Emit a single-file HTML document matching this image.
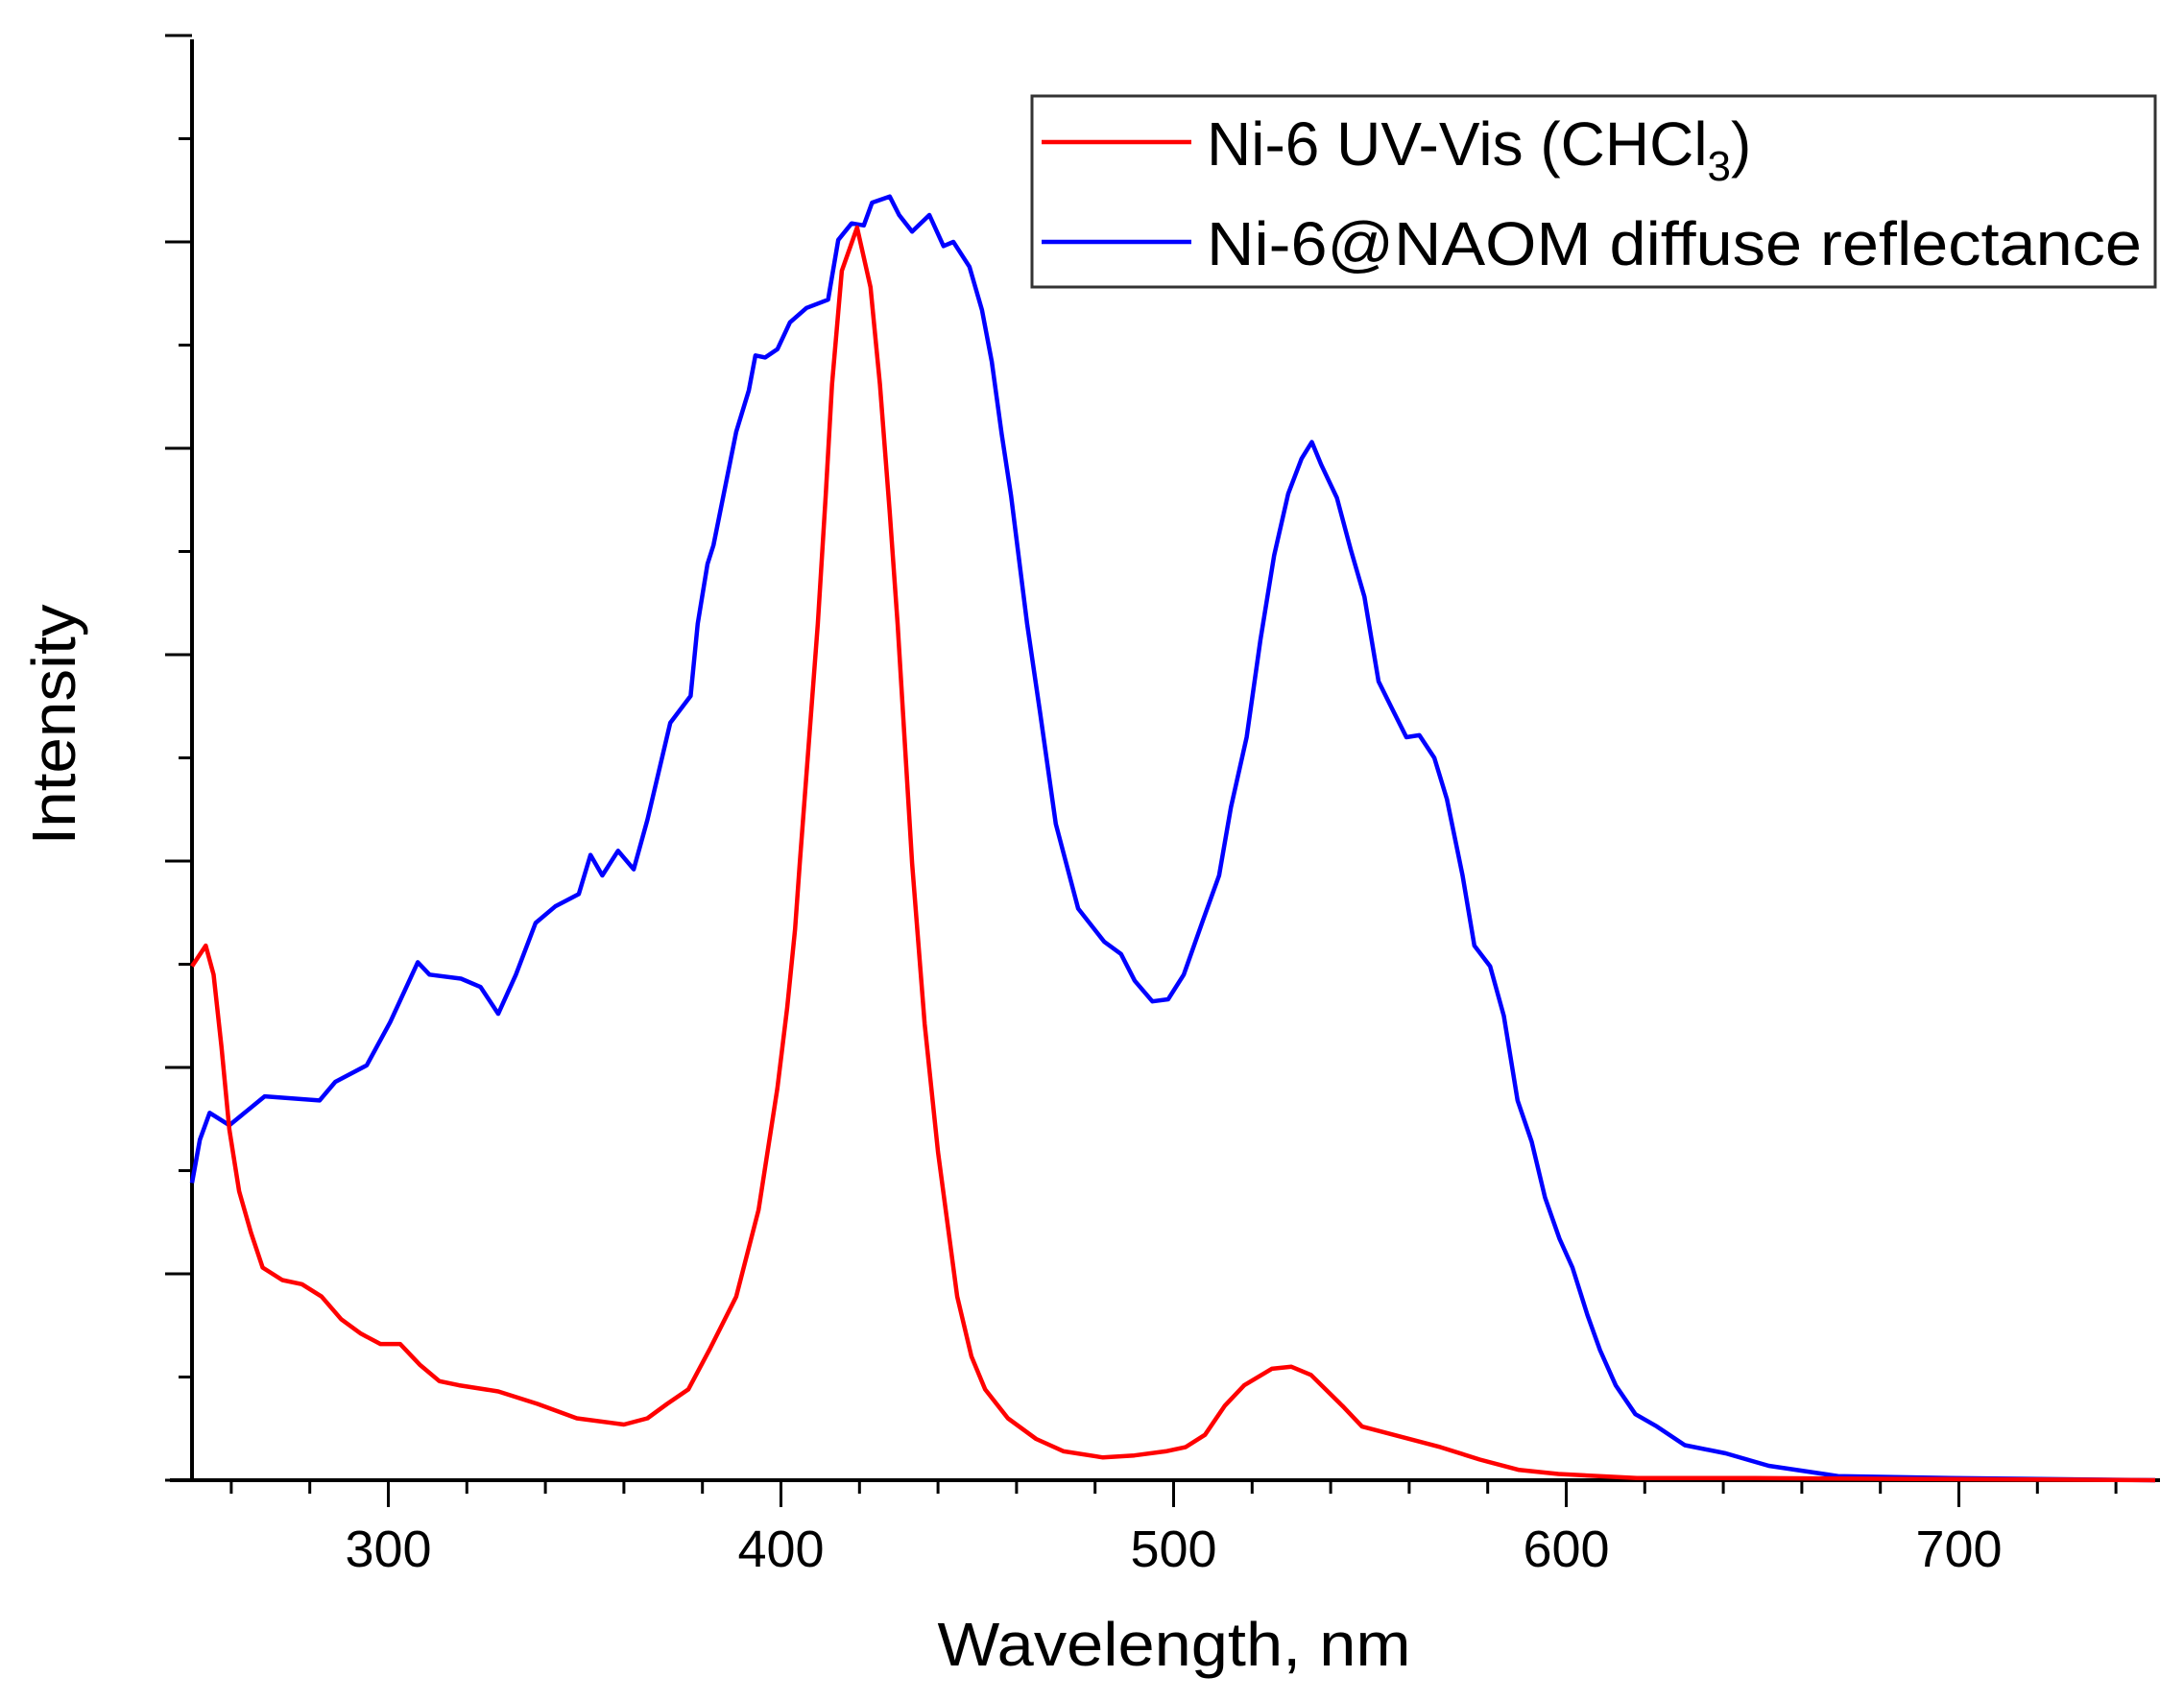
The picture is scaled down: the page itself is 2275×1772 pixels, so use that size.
<!DOCTYPE html>
<html><head><meta charset="utf-8"><style>html,body{margin:0;padding:0;background:#fff}svg{display:block}text{font-family:"Liberation Sans",sans-serif;fill:#000}</style></head>
<body>
<svg id="chart" width="2275" height="1772" viewBox="0 0 2275 1772" xmlns="http://www.w3.org/2000/svg">
<g id="axes"></g>
<g id="series"></g>
<g>
<rect x="1075" y="100" width="1170" height="199" fill="#fff" stroke="#333" stroke-width="3"/>
<line x1="1085" y1="148" x2="1241" y2="148" stroke="#ff0000" stroke-width="4.5"/>
<text x="1257" y="172" font-size="64">Ni-6 UV-Vis (CHCl<tspan font-size="44" dy="16">3</tspan><tspan dy="-16">)</tspan></text>
<line x1="1085" y1="252" x2="1241" y2="252" stroke="#0000ff" stroke-width="4.5"/>
<text x="1257" y="276" font-size="64" textLength="974" lengthAdjust="spacingAndGlyphs">Ni-6@NAOM diffuse reflectance</text>
</g>
<text x="1223" y="1735" font-size="64" text-anchor="middle" textLength="493" lengthAdjust="spacingAndGlyphs">Wavelength, nm</text>
<text transform="translate(78,755) rotate(-90)" font-size="64" text-anchor="middle" textLength="251" lengthAdjust="spacingAndGlyphs">Intensity</text>
</svg>
<script>
const xTicks = [300, 400, 500, 600, 700];
const redNm = [250,253.5,255.5,257.5,259.5,262,265,268,273,278,283,288,293,298,303,308,313,318,328,338,348,360,366,371,376.4,382,388.6,394.3,399.1,401.6,403.6,404.8,409.4,411.4,413,415.5,419.4,422.8,425.2,427.7,429.7,433.4,436.6,440,444.9,448.5,452,457.8,465,472,482,490,498,503,508,513,518,525,530,535,543,548,558,568,578,588,598,618,648,750];
const redVal = [2.49,2.59,2.45,2.10,1.70,1.40,1.20,1.03,0.97,0.95,0.89,0.78,0.71,0.66,0.66,0.56,0.48,0.46,0.43,0.37,0.30,0.27,0.30,0.37,0.44,0.64,0.89,1.31,1.90,2.29,2.67,2.99,4.15,4.77,5.31,5.86,6.07,5.78,5.31,4.69,4.15,2.99,2.21,1.59,0.89,0.60,0.44,0.30,0.20,0.14,0.11,0.12,0.14,0.16,0.22,0.36,0.46,0.54,0.55,0.51,0.36,0.26,0.21,0.16,0.10,0.05,0.03,0.01,0.01,0];
const blueNm = [250,252,254.5,259.5,268.5,282.5,286.5,294.5,300.5,307.5,310.5,318.5,323.5,328,332.5,337.5,342.5,348.5,351.5,354.5,358.5,362.5,366,371.8,377,378.8,381.3,382.8,388.6,391.8,393.5,396,399.1,402.3,406.5,412,414.6,418,421.1,423.2,427.7,430.1,433.4,437.8,441.4,443.9,448,451.2,453.7,456.2,458.6,462.7,466,470,475.7,482.3,486.6,490.1,494.6,498.6,502.6,507.6,511.6,514.6,518.6,522.1,525.6,529.2,532.6,535.2,537.6,541.6,545.1,548.6,552.2,555.6,559.3,562.6,566.4,569.6,573.6,576.6,580.6,584.1,587.6,591.2,594.6,598.3,601.6,605.4,608.6,612.6,617.6,623.1,630.2,640.6,651.6,662.1,669.2,698,750];
const blueVal = [1.44,1.65,1.78,1.72,1.86,1.84,1.93,2.01,2.22,2.51,2.45,2.43,2.39,2.26,2.45,2.70,2.78,2.84,3.03,2.93,3.05,2.96,3.20,3.67,3.80,4.15,4.44,4.53,5.08,5.28,5.45,5.44,5.48,5.61,5.68,5.72,6.01,6.09,6.08,6.19,6.22,6.13,6.05,6.13,5.98,6.00,5.88,5.67,5.42,5.07,4.77,4.15,3.72,3.18,2.77,2.61,2.55,2.42,2.32,2.33,2.45,2.72,2.93,3.26,3.60,4.07,4.48,4.78,4.95,5.03,4.92,4.76,4.51,4.28,3.87,3.74,3.60,3.61,3.50,3.30,2.93,2.59,2.49,2.25,1.84,1.64,1.37,1.17,1.03,0.80,0.63,0.46,0.32,0.26,0.17,0.13,0.07,0.04,0.02,0.01,0];

const NS = 'http://www.w3.org/2000/svg';
const X0 = 200, PXNM = 4.09, Y0 = 1542, PXV = 215;
function xs(nm){ return X0 + (nm - 250) * PXNM; }
function ys(v){ return Y0 - v * PXV; }
function mk(tag, attrs){ const e = document.createElementNS(NS, tag); for (const k in attrs) e.setAttribute(k, attrs[k]); return e; }

const axes = document.getElementById('axes');
const xa = mk('line', {x1: 177, y1: Y0, x2: 2250, y2: Y0, stroke: '#000', 'stroke-width': 4});


axes.appendChild(xa);
const ya = mk('line', {x1: X0, y1: 41, x2: X0, y2: Y0, stroke: '#000', 'stroke-width': 4});


axes.appendChild(ya);
for (let nm = 260; nm <= 740; nm += 20) {
  const major = nm % 100 === 0;
  const t = mk('line', {x1: xs(nm), y1: Y0, x2: xs(nm), y2: Y0 + (major ? 28 : 14), stroke: '#000', 'stroke-width': 3});
  
  
  axes.appendChild(t);
}
xTicks.forEach(v => {
  const t = mk('text', {x: xs(v), y: 1632, 'font-size': 54, 'text-anchor': 'middle'});
  t.textContent = String(v);
  
  
  axes.appendChild(t);
});
for (let i = 0; i <= 14; i++) {
  const v = i * 0.5;
  const major = i % 2 === 0;
  const t = mk('line', {x1: X0, y1: ys(v), x2: X0 - (major ? 28 : 14), y2: ys(v), stroke: '#000', 'stroke-width': 3});
  
  
  axes.appendChild(t);
}

const series = document.getElementById('series');
function draw(nms, vals, color, name){
  const d = nms.map((n, i) => (i ? 'L' : 'M') + xs(n).toFixed(1) + ',' + ys(vals[i]).toFixed(1)).join(' ');
  const p = mk('path', {d: d, fill: 'none', stroke: color, 'stroke-width': 4.5, 'stroke-linejoin': 'round'});
  
  
  series.appendChild(p);
}
draw(blueNm, blueVal, '#0000ff', 'diffuse-reflectance-line');
draw(redNm, redVal, '#ff0000', 'uv-vis-line');
</script>
</body></html>
